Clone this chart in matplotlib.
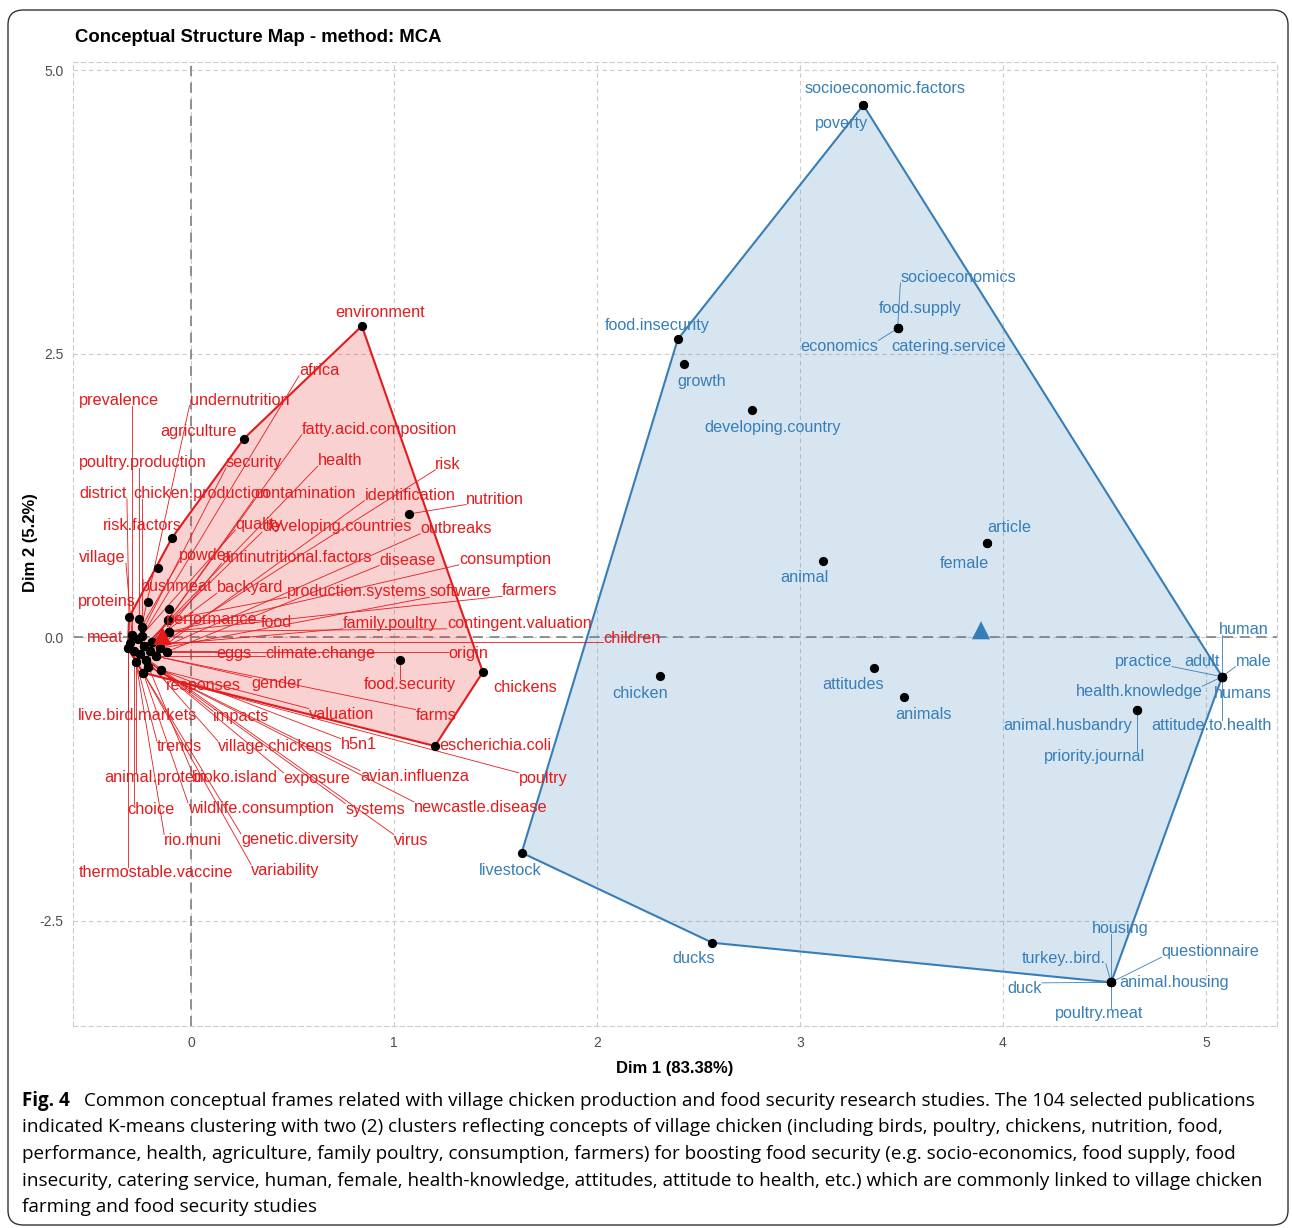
import numpy as np
import matplotlib
matplotlib.use("Agg")
import matplotlib.pyplot as plt
from matplotlib.patches import Polygon, FancyBboxPatch

RED = "#E41A1C"
BLUE = "#377EB8"
SANS = ["Liberation Sans", "DejaVu Sans"]
CAPTION_FONT = ["Open Sans", "DejaVu Sans"]

# cluster 1 (red): word, point coordinates, label position
red_words = ["environment", "africa", "prevalence", "undernutrition", "agriculture",
             "fatty.acid.composition", "poultry.production", "security", "health", "risk",
             "district", "chicken.production", "contamination", "identification", "nutrition",
             "risk.factors", "quality", "developing.countries", "outbreaks", "village",
             "powder", "antinutritional.factors", "disease", "consumption", "bushmeat",
             "backyard", "production.systems", "software", "farmers", "proteins",
             "performance", "food", "family.poultry", "contingent.valuation", "meat",
             "children", "eggs", "climate.change", "origin", "responses",
             "gender", "food.security", "chickens", "live.bird.markets", "impacts",
             "valuation", "farms", "trends", "village.chickens", "h5n1",
             "escherichia.coli", "animal.protein", "bioko.island", "exposure", "avian.influenza",
             "poultry", "choice", "wildlife.consumption", "systems", "newcastle.disease",
             "rio.muni", "genetic.diversity", "virus", "thermostable.vaccine", "variability"]
red_x = [0.842, -0.24, -0.29, -0.243, 0.261,
         -0.19, -0.256, -0.26, -0.23, -0.20,
         -0.305, -0.24, -0.19, -0.15, 1.074,
         -0.094, -0.26, -0.23, -0.15, -0.29,
         -0.243, -0.20, -0.12, -0.107, -0.163,
         -0.19, -0.115, -0.15, -0.107, -0.21,
         -0.107, -0.115, -0.23, -0.107, -0.30,
         -0.19, -0.20, -0.17, -0.12, -0.25,
         -0.17, 1.03, 1.438, -0.31, -0.22,
         -0.149, -0.17, -0.27, -0.22, -0.149,
         1.202, -0.27, -0.21, -0.25, -0.21,
         -0.235, -0.28, -0.235, -0.22, -0.21,
         -0.28, -0.235, -0.25, -0.31, -0.235]
red_y = [2.743, 0.01, 0.02, 0.091, 1.75,
         -0.04, 0.156, -0.02, -0.08, -0.12,
         0.174, 0.01, -0.04, -0.10, 1.085,
         0.873, -0.02, -0.08, -0.10, 0.02,
         0.091, -0.12, -0.13, 0.047, 0.611,
         -0.04, 0.15, -0.10, 0.047, 0.311,
         0.244, 0.15, -0.08, 0.047, -0.05,
         -0.04, -0.12, -0.17, -0.13, -0.15,
         -0.17, -0.203, -0.309, -0.10, -0.20,
         -0.291, -0.17, -0.22, -0.20, -0.291,
         -0.961, -0.22, -0.26, -0.15, -0.26,
         -0.315, -0.12, -0.315, -0.20, -0.26,
         -0.12, -0.315, -0.15, -0.10, -0.315]
red_label_x = [0.931, 0.632, -0.353, 0.238, 0.036,
               0.928, -0.235, 0.312, 0.734, 1.267,
               -0.432, 0.048, 0.56, 1.079, 1.498,
               -0.238, 0.336, 0.718, 1.305, -0.435,
               0.074, 0.521, 1.066, 1.547, -0.07,
               0.291, 0.816, 1.325, 1.67, -0.412,
               0.103, 0.421, 0.982, 1.617, -0.424,
               2.172, 0.213, 0.635, 1.366, 0.059,
               0.424, 1.079, 1.647, -0.262, 0.248,
               0.741, 1.207, -0.056, 0.416, 0.826,
               1.498, -0.174, 0.217, 0.621, 1.101,
               1.735, -0.195, 0.345, 0.908, 1.427,
               0.011, 0.535, 1.084, -0.174, 0.465]
red_label_y = [2.86, 2.354, 2.09, 2.09, 1.81,
               1.832, 1.541, 1.541, 1.555, 1.523,
               1.267, 1.267, 1.267, 1.252, 1.217,
               0.981, 0.994, 0.973, 0.959, 0.699,
               0.717, 0.699, 0.679, 0.685, 0.45,
               0.435, 0.399, 0.399, 0.408, 0.311,
               0.156, 0.13, 0.121, 0.121, -0.003,
               -0.009, -0.144, -0.144, -0.144, -0.429,
               -0.408, -0.417, -0.444, -0.694, -0.703,
               -0.679, -0.688, -0.967, -0.967, -0.944,
               -0.959, -1.237, -1.237, -1.246, -1.226,
               -1.246, -1.517, -1.511, -1.517, -1.502,
               -1.79, -1.784, -1.79, -2.075, -2.055]

# cluster 2 (blue)
blue_words = ["socioeconomic.factors", "poverty", "food.insecurity", "growth", "developing.country",
              "socioeconomics", "food.supply", "economics", "catering.service", "article",
              "female", "animal", "attitudes", "animals", "chicken",
              "human", "practice", "adult", "male", "health.knowledge",
              "humans", "attitude.to.health", "animal.husbandry", "priority.journal", "livestock",
              "ducks", "housing", "turkey..bird.", "questionnaire", "animal.housing",
              "duck", "poultry.meat"]
blue_x = [3.312, 3.312, 2.398, 2.427, 2.762,
          3.481, 3.481, 3.481, 3.481, 3.921,
          3.921, 3.115, 3.363, 3.514, 2.31,
          5.08, 5.08, 5.08, 5.08, 5.08,
          5.08, 5.08, 4.66, 4.66, 1.629,
          2.569, 4.533, 4.533, 4.533, 4.533,
          4.533, 4.533]
blue_y = [4.691, 4.691, 2.625, 2.407, 2.002,
          2.722, 2.722, 2.722, 2.722, 0.826,
          0.826, 0.673, -0.271, -0.529, -0.344,
          -0.35, -0.35, -0.35, -0.35, -0.35,
          -0.35, -0.35, -0.644, -0.644, -1.902,
          -2.696, -3.045, -3.045, -3.045, -3.045,
          -3.045, -3.045]
blue_label_x = [3.419, 3.205, 2.297, 2.516, 2.866,
                3.78, 3.591, 3.194, 3.731, 4.03,
                3.808, 3.02, 3.263, 3.607, 2.212,
                5.184, 4.691, 4.979, 5.233, 4.67,
                5.184, 5.028, 4.317, 4.45, 1.575,
                2.477, 4.576, 4.3, 5.022, 4.842,
                4.107, 4.473]
blue_label_y = [4.839, 4.53, 2.751, 2.251, 1.846,
                3.172, 2.899, 2.566, 2.566, 0.967,
                0.65, 0.526, -0.417, -0.682, -0.494,
                0.068, -0.212, -0.212, -0.212, -0.482,
                -0.496, -0.776, -0.782, -1.056, -2.055,
                -2.833, -2.569, -2.833, -2.775, -3.045,
                -3.098, -3.318]

centroid_x = [-0.14, 3.892]
centroid_y = [0.01, 0.06]

x_ticks = [0, 1, 2, 3, 4, 5]
y_ticks = [-2.5, 0.0, 2.5, 5.0]
y_tick_labels = ["-2.5", "0.0", "2.5", "5.0"]

caption_first = "Common conceptual frames related with village chicken production and food security research studies. The 104 selected publications"
caption_lines = [
    "indicated K-means clustering with two (2) clusters reflecting concepts of village chicken (including birds, poultry, chickens, nutrition, food,",
    "performance, health, agriculture, family poultry, consumption, farmers) for boosting food security (e.g. socio-economics, food supply, food",
    "insecurity, catering service, human, female, health-knowledge, attitudes, attitude to health, etc.) which are commonly linked to village chicken",
    "farming and food security studies",
]


def convex_hull(xs, ys):
    pts = sorted(set(zip(xs, ys)))

    def cross(o, a, b):
        return (a[0] - o[0]) * (b[1] - o[1]) - (a[1] - o[1]) * (b[0] - o[0])

    lower, upper = [], []
    for p in pts:
        while len(lower) >= 2 and cross(lower[-2], lower[-1], p) <= 0:
            lower.pop()
        lower.append(p)
    for p in reversed(pts):
        while len(upper) >= 2 and cross(upper[-2], upper[-1], p) <= 0:
            upper.pop()
        upper.append(p)
    return lower[:-1] + upper[:-1]


W, H = 1292, 1228
fig = plt.figure(figsize=(W / 100, H / 100), dpi=100)
ax = fig.add_axes([73 / W, 1 - 1026 / H, (1277 - 73) / W, (1026 - 62) / H])
ax.set_xlim(-0.581, 5.35)
ax.set_ylim(-3.43, 5.071)
ax.set_xticks(x_ticks)
ax.set_yticks(y_ticks, y_tick_labels)
ax.tick_params(length=0, labelcolor="#4D4D4D", labelsize=10, pad=7)
for lab in ax.get_xticklabels() + ax.get_yticklabels():
    lab.set_family(SANS)
ax.set_axisbelow(True)
ax.grid(True, color="#CCCCCC", linestyle=(0, (4, 3)), linewidth=0.8)
for s in ax.spines.values():
    s.set_linestyle((0, (4, 3)))
    s.set_color("#CCCCCC")
    s.set_linewidth(0.8)
ax.axhline(0, color="#808080", linestyle=(0, (6, 4)), linewidth=1.2, zorder=1)
ax.axvline(0, color="#808080", linestyle=(0, (6, 4)), linewidth=1.2, zorder=1)

clusters = [
    (red_words, red_x, red_y, red_label_x, red_label_y, RED),
    (blue_words, blue_x, blue_y, blue_label_x, blue_label_y, BLUE),
]
all_texts = []
for words, xs, ys, lxs, lys, color in clusters:
    h = convex_hull(xs, ys)
    ax.add_patch(Polygon(h, closed=True, facecolor=color, alpha=0.2, edgecolor="none", zorder=2))
    ax.add_patch(Polygon(h, closed=True, fill=False, edgecolor=color, linewidth=1.5, zorder=2.1))
    ax.scatter(xs, ys, s=44, color="black", zorder=4, linewidths=0)
    texts = []
    for w, lx, ly in zip(words, lxs, lys):
        texts.append(ax.text(lx, ly, w, color=color, ha="center", va="center",
                             fontsize=11.7, family=SANS, zorder=5))
    all_texts.append((texts, xs, ys, color))

ax.scatter(centroid_x, centroid_y, marker="^", s=170, color=[RED, BLUE], zorder=4, linewidths=0)

fig.text(75 / W, 1 - 37 / H, "Conceptual Structure Map - method: MCA", fontsize=13.3,
         fontweight="bold", family=SANS, va="center", ha="left")
fig.text(675 / W, 1 - 1068 / H, "Dim 1 (83.38%)", fontsize=12, fontweight="bold",
         family=SANS, va="center", ha="center")
fig.text(30 / W, 1 - 543 / H, "Dim 2 (5.2%)", fontsize=12, fontweight="bold",
         family=SANS, va="center", ha="center", rotation=90)

# caption
cap_y = [1101, 1127, 1154, 1181, 1207]
fig.text(22 / W, 1 - cap_y[0] / H, "Fig. 4", fontsize=13.5, fontweight="bold",
         family=CAPTION_FONT, va="center", ha="left")
cap_texts = [fig.text(84 / W, 1 - cap_y[0] / H, caption_first, fontsize=12,
                      family=CAPTION_FONT, va="center", ha="left")]
for yy, line in zip(cap_y[1:], caption_lines):
    cap_texts.append(fig.text(22 / W, 1 - yy / H, line, fontsize=12,
                              family=CAPTION_FONT, va="center", ha="left"))

fig.patches.append(FancyBboxPatch((8 / W, 3 / H), (1288 - 8) / W, (1218 - 3) / H,
                                  boxstyle="round,pad=0,rounding_size=0.012",
                                  transform=fig.transFigure, fill=False,
                                  edgecolor="#333333", linewidth=1.0))

fig.canvas.draw()
renderer = fig.canvas.get_renderer()

# fit caption width to the reference line width
width = cap_texts[1].get_window_extent(renderer).width
scale = 1190 / width
for t in cap_texts:
    t.set_fontsize(12 * scale)

# repel-style segments from each point to its label box
to_data = ax.transData.inverted()
for texts, xs, ys, color in all_texts:
    for t, x, y in zip(texts, xs, ys):
        bb = t.get_window_extent(renderer)
        px, py = ax.transData.transform((x, y))
        cx = min(max(px, bb.x0), bb.x1)
        cy = min(max(py, bb.y0 + 2), bb.y1 - 2)
        if np.hypot(cx - px, cy - py) > 16:
            x1, y1 = to_data.transform((cx, cy))
            ax.plot([x, x1], [y, y1], color=color, linewidth=0.6, zorder=3)

fig.savefig("out.png", dpi=100)
